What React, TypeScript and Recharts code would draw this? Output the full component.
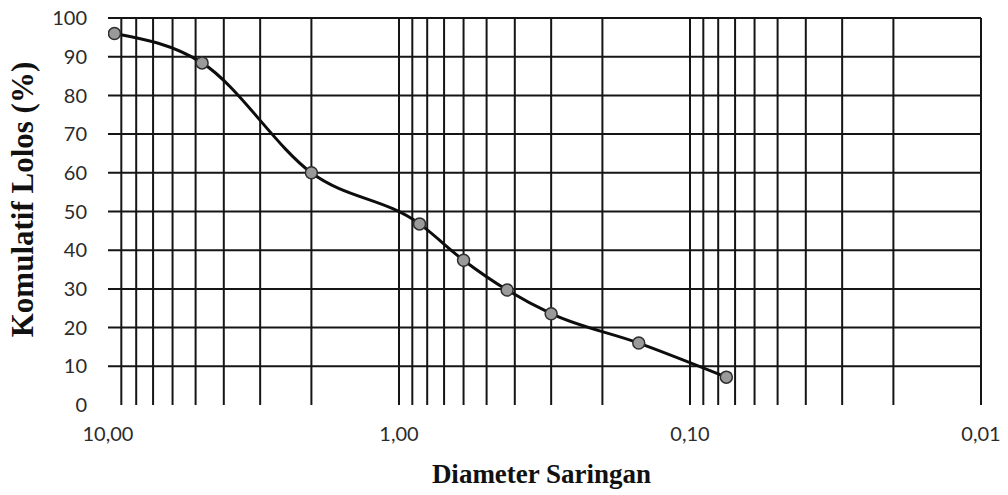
import { Line, LineChart, ReferenceLine, XAxis, YAxis } from "recharts";

// sieve opening (mm) and cumulative % passing
const diameters = [9.5, 4.75, 2.0, 0.85, 0.6, 0.425, 0.3, 0.15, 0.075];
const passing = [96.0, 88.4, 60.0, 46.8, 37.4, 29.7, 23.6, 16.0, 7.2];

const xTicks = [10, 1, 0.1, 0.01];
const yTicks = [0, 10, 20, 30, 40, 50, 60, 70, 80, 90, 100];

// log-paper grid: no line on the 10 edge or at 0 %
const xGrid = [
  9, 8, 7, 6, 5, 4, 3, 2, 1, 0.9, 0.8, 0.7, 0.6, 0.5, 0.4, 0.3, 0.2, 0.1, 0.09, 0.08, 0.07, 0.06, 0.05, 0.04,
  0.03, 0.02, 0.01,
];
const yGrid = [10, 20, 30, 40, 50, 60, 70, 80, 90, 100];

const data = diameters.map((d, i) => ({ d, pct: passing[i] }));

const gridColor = "#151515";
const tickStyle = { fontSize: 20, fill: "#2b2b2b", fontFamily: "Lato, 'Open Sans', sans-serif" };

type Box = { x: number; y: number; width: number; height: number };

function XTitle(props: { viewBox?: Box }) {
  const vb = props.viewBox ?? { x: 0, y: 0, width: 0, height: 0 };
  return (
    <text
      x={vb.x + vb.width / 2 - 3}
      y={vb.y + 78}
      textAnchor="middle"
      fontFamily="'Liberation Serif', 'DejaVu Serif', serif"
      fontWeight="bold"
      fontSize={27}
      fill="#111"
    >
      Diameter Saringan
    </text>
  );
}

function YTitle(props: { viewBox?: Box }) {
  const vb = props.viewBox ?? { x: 0, y: 0, width: 0, height: 0 };
  const cx = vb.x + 33;
  const cy = vb.y + vb.height / 2 - 12;
  return (
    <text
      transform={`translate(${cx},${cy}) rotate(-90)`}
      textAnchor="middle"
      fontFamily="'Liberation Serif', 'DejaVu Serif', serif"
      fontWeight="bold"
      fontSize={31}
      fill="#111"
    >
      Komulatif Lolos (%)
    </text>
  );
}

export default function App() {
  return (
    <div style={{ position: "absolute", left: 0, top: 0, width: 1008, height: 495, background: "#fff" }}>
      <LineChart width={1008} height={495} data={data} margin={{ top: 18, right: 27, bottom: 0, left: 0 }}>
        <XAxis
          dataKey="d"
          type="number"
          scale="log"
          domain={[0.01, 10]}
          reversed
          allowDataOverflow
          ticks={xTicks}
          tickFormatter={(v: number) => v.toFixed(2).replace(".", ",")}
          axisLine={false}
          tickLine={false}
          tickSize={0}
          tickMargin={22}
          height={90}
          tick={tickStyle}
          interval={0}
          label={<XTitle />}
        />
        <YAxis
          type="number"
          domain={[0, 100]}
          ticks={yTicks}
          axisLine={false}
          tickLine={false}
          tickSize={0}
          tickMargin={21}
          width={108}
          tick={tickStyle}
          interval={0}
          label={<YTitle />}
        />

        {yGrid.map((v) => (
          <ReferenceLine key={`h${v}`} y={v} stroke={gridColor} strokeWidth={2} />
        ))}
        {xGrid.map((v) => (
          <ReferenceLine key={`v${v}`} x={v} stroke={gridColor} strokeWidth={2} />
        ))}

        <Line
          type="monotone"
          dataKey="pct"
          stroke="#0d0d0d"
          strokeWidth={3}
          dot={{ r: 6, fill: "#9a9a9a", stroke: "#2e2e2e", strokeWidth: 1.5 }}
          activeDot={false}
          isAnimationActive={false}
        />
      </LineChart>
    </div>
  );
}
